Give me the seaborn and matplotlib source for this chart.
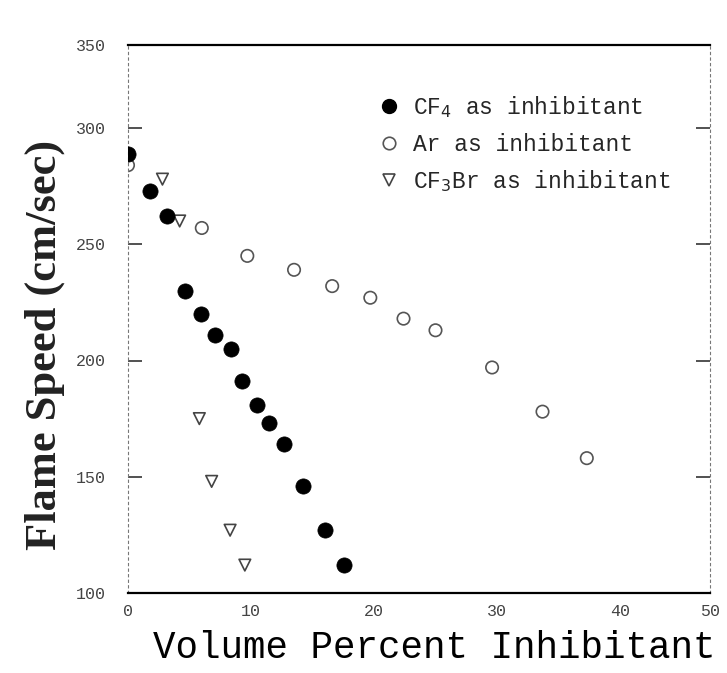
import matplotlib
matplotlib.use("Agg")
import matplotlib.pyplot as plt
import seaborn as sns
import pandas as pd
from matplotlib.lines import Line2D

# ---- data ----
cf4_pct = [0.0, 1.8, 3.2, 4.6, 5.9, 7.1, 8.4, 9.3, 10.5, 11.5, 12.7, 14.2, 16.0, 17.6]
cf4_speed = [289, 273, 262, 230, 220, 211, 205, 191, 181, 173, 164, 146, 127, 112]

ar_pct = [0.0, 6.0, 9.7, 13.5, 16.6, 19.7, 22.4, 25.0, 29.6, 33.7, 37.3]
ar_speed = [284, 257, 245, 239, 232, 227, 218, 213, 197, 178, 158]

cf3br_pct = [0.0, 2.8, 4.2, 5.8, 6.8, 8.3, 9.5]
cf3br_speed = [288, 278, 260, 175, 148, 127, 112]

x_ticks = [0, 10, 20, 30, 40]
x_tick_labels = ["0", "10", "20", "30", "40"]
y_ticks = [100, 150, 200, 250, 300]
y_tick_labels = ["100", "150", "200", "250", "300"]
x_edge_label = "50"
y_edge_label = "350"

labels = ["CF$_4$ as inhibitant", "Ar as inhibitant", "CF$_3$Br as inhibitant"]

df_cf4 = pd.DataFrame({"pct": cf4_pct, "speed": cf4_speed})
df_ar = pd.DataFrame({"pct": ar_pct, "speed": ar_speed})
df_br = pd.DataFrame({"pct": cf3br_pct, "speed": cf3br_speed})

sns.set_theme(style="white")
plt.rcParams["font.family"] = ["Liberation Mono", "DejaVu Sans"]

fig = plt.figure(figsize=(7.27, 6.73), dpi=100)
ax = fig.add_axes([128 / 727, 1 - 593 / 673, (710 - 128) / 727, (593 - 45) / 673])

sns.scatterplot(data=df_ar, x="pct", y="speed", ax=ax, marker="o", s=80,
                facecolor="none", edgecolor="#555555", linewidth=1.2, zorder=2)
sns.scatterplot(data=df_br, x="pct", y="speed", ax=ax, marker="v", s=70,
                facecolor="none", edgecolor="#444444", linewidth=1.2, zorder=2)
sns.scatterplot(data=df_cf4, x="pct", y="speed", ax=ax, marker="o", s=120,
                color="black", edgecolor="black", linewidth=0.5, zorder=3)

xmax = (710 - 128) / 12.3
ymax = 300 + 83 / 2.325
ax.set_xlim(0, xmax)
ax.set_ylim(100, ymax)

ax.set_xticks(x_ticks + [xmax])
ax.set_xticklabels(x_tick_labels + [x_edge_label])
ax.set_yticks(y_ticks + [ymax])
ax.set_yticklabels(y_tick_labels + [y_edge_label])
ax.tick_params(axis="x", which="both", length=0, pad=8, labelsize=12, labelcolor="#444444")
ax.tick_params(axis="y", which="both", direction="in", length=10, width=1.2,
               color="#333333", pad=16, labelsize=12, labelcolor="#444444",
               left=True, right=True)

for side in ["top", "bottom"]:
    ax.spines[side].set_visible(True)
    ax.spines[side].set_color("black")
    ax.spines[side].set_linewidth(1.6)
for side in ["left", "right"]:
    ax.spines[side].set_visible(True)
    ax.spines[side].set_color("#777777")
    ax.spines[side].set_linewidth(0.8)
    ax.spines[side].set_linestyle((0, (2, 3)))

ax.set_xlabel("Volume Percent Inhibitant", fontsize=27, family="Liberation Mono",
              color="black")
ax.xaxis.set_label_coords((434 - 128) / 582, -(648 - 593) / 548)
ax.xaxis.label.set_va("center")
ax.set_ylabel("Flame Speed (cm/sec)", fontsize=32, family="Liberation Serif",
              fontweight="bold", color="#222222")
ax.yaxis.set_label_coords(-(128 - 45) / 582, (593 - 345) / 548)
ax.yaxis.label.set_va("center")

handles = [
    Line2D([], [], marker="o", linestyle="none", markersize=10,
           markerfacecolor="black", markeredgecolor="black"),
    Line2D([], [], marker="o", linestyle="none", markersize=9,
           markerfacecolor="none", markeredgecolor="#555555", markeredgewidth=1.2),
    Line2D([], [], marker="v", linestyle="none", markersize=9,
           markerfacecolor="none", markeredgecolor="#444444", markeredgewidth=1.2),
]
ax.legend(handles, labels, loc="upper left", bbox_to_anchor=(368 / 727, 1 - 85 / 673),
          bbox_transform=fig.transFigure, frameon=False, fontsize=16.5,
          handletextpad=0.55, labelspacing=0.55, handlelength=1.0, borderaxespad=0)

fig.savefig("out.png", dpi=100)
